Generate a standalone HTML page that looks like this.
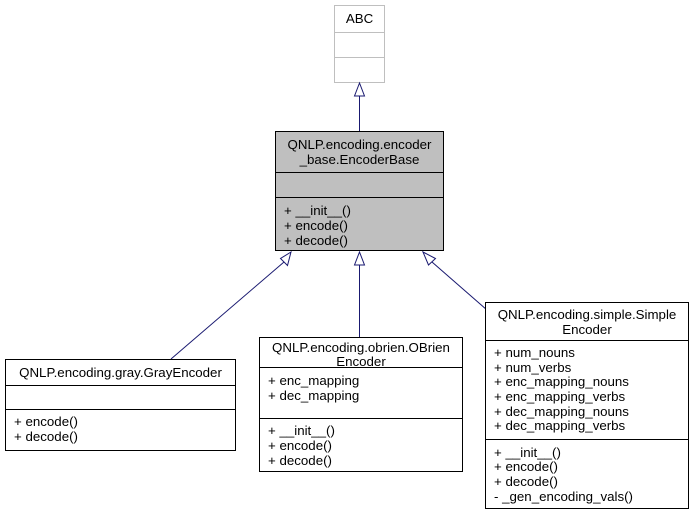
<!DOCTYPE html>
<html><head><meta charset="utf-8"><style>
html,body{margin:0;padding:0;background:#fff;}
svg{display:block;}
text{font-family:"Liberation Sans",Arial,sans-serif;font-size:13.3px;fill:#000;}
</style></head><body>
<svg width="693" height="515" viewBox="0 0 693 515" xmlns="http://www.w3.org/2000/svg">
<rect x="334.5" y="5.5" width="50" height="77" fill="#fff" stroke="#bfbfbf"/>
<line x1="334.5" y1="32.5" x2="384.5" y2="32.5" stroke="#bfbfbf"/>
<line x1="334.5" y1="57.5" x2="384.5" y2="57.5" stroke="#bfbfbf"/>
<text x="359.5" y="23" text-anchor="middle">ABC</text>
<line x1="359.5" y1="96" x2="359.5" y2="131" stroke="#191970"/>
<polygon points="359.5,83 354.5,96 364.5,96" fill="#fff" stroke="#191970"/>
<rect x="275.5" y="131.5" width="168" height="119" fill="#bfbfbf" stroke="#000"/>
<line x1="275.5" y1="172.5" x2="443.5" y2="172.5" stroke="#000"/>
<line x1="275.5" y1="197.5" x2="443.5" y2="197.5" stroke="#000"/>
<text x="359.5" y="149" text-anchor="middle">QNLP.encoding.encoder</text>
<text x="359.5" y="164" text-anchor="middle">_base.EncoderBase</text>
<text x="284" y="215">+ __init__()</text>
<text x="284" y="230">+ encode()</text>
<text x="284" y="245">+ decode()</text>
<line x1="284" y1="262" x2="171" y2="359" stroke="#191970"/>
<polygon points="291,252 280.5,258.5 287.5,265.5" fill="#fff" stroke="#191970"/>
<line x1="359.5" y1="265" x2="359.5" y2="337" stroke="#191970"/>
<polygon points="359.5,252 354.5,265 364.5,265" fill="#fff" stroke="#191970"/>
<line x1="432" y1="262" x2="487" y2="310" stroke="#191970"/>
<polygon points="423,252 428.5,265 435.5,258.5" fill="#fff" stroke="#191970"/>
<rect x="5.5" y="359.5" width="230" height="91" fill="#fff" stroke="#000"/>
<line x1="5.5" y1="385.5" x2="235.5" y2="385.5" stroke="#000"/>
<line x1="5.5" y1="409.5" x2="235.5" y2="409.5" stroke="#000"/>
<text x="120.5" y="377" text-anchor="middle">QNLP.encoding.gray.GrayEncoder</text>
<text x="14" y="426">+ encode()</text>
<text x="14" y="441">+ decode()</text>
<rect x="259.5" y="337.5" width="203" height="134" fill="#fff" stroke="#000"/>
<line x1="259.5" y1="367.5" x2="462.5" y2="367.5" stroke="#000"/>
<line x1="259.5" y1="418.5" x2="462.5" y2="418.5" stroke="#000"/>
<text x="361" y="352" text-anchor="middle">QNLP.encoding.obrien.OBrien</text>
<text x="361" y="366" text-anchor="middle">Encoder</text>
<text x="268" y="385">+ enc_mapping</text>
<text x="268" y="400">+ dec_mapping</text>
<text x="268" y="435">+ __init__()</text>
<text x="268" y="450">+ encode()</text>
<text x="268" y="465">+ decode()</text>
<rect x="485.5" y="302.5" width="203" height="206" fill="#fff" stroke="#000"/>
<line x1="485.5" y1="340.5" x2="688.5" y2="340.5" stroke="#000"/>
<line x1="485.5" y1="439.5" x2="688.5" y2="439.5" stroke="#000"/>
<text x="587" y="319" text-anchor="middle">QNLP.encoding.simple.Simple</text>
<text x="587" y="334" text-anchor="middle">Encoder</text>
<text x="494" y="357">+ num_nouns</text>
<text x="494" y="372">+ num_verbs</text>
<text x="494" y="386">+ enc_mapping_nouns</text>
<text x="494" y="401">+ enc_mapping_verbs</text>
<text x="494" y="416">+ dec_mapping_nouns</text>
<text x="494" y="430">+ dec_mapping_verbs</text>
<text x="494" y="457">+ __init__()</text>
<text x="494" y="471">+ encode()</text>
<text x="494" y="486">+ decode()</text>
<text x="494" y="501">- _gen_encoding_vals()</text>
</svg>
</body></html>
